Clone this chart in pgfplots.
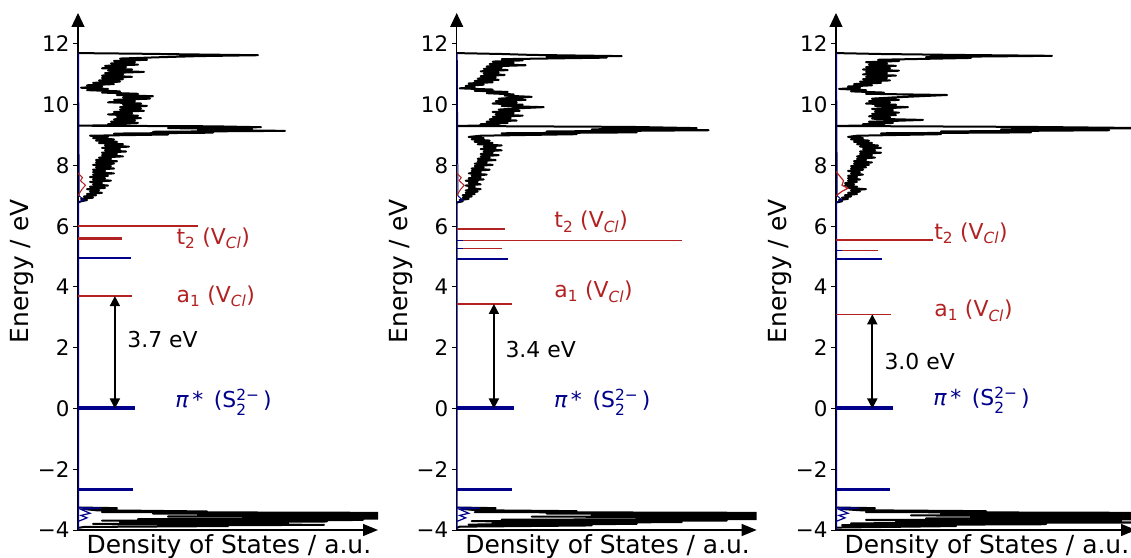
\documentclass[border=0pt]{standalone}
\usepackage{amsmath}
\usepackage{fontspec}
\setmainfont{DejaVu Sans}[ItalicFont={DejaVu Sans Oblique}]
\usepackage{pgfplots}
\pgfplotsset{compat=1.18}
\usepackage{pgfplotstable}
\usetikzlibrary{arrows.meta}

\definecolor{dred}{RGB}{178,34,34}
\definecolor{dblue}{RGB}{0,0,139}

% conduction band DOS, columns: dos energy
\pgfplotstableread{
x y
0.00 6.78
0.01 6.82
0.03 6.86
0.01 6.90
0.05 6.94
0.02 6.98
0.06 7.02
0.03 7.06
0.08 7.10
0.04 7.14
0.07 7.18
0.03 7.22
0.09 7.26
0.04 7.30
0.10 7.34
0.05 7.38
0.08 7.42
0.04 7.46
0.11 7.50
0.05 7.54
0.09 7.58
0.04 7.62
0.10 7.66
0.05 7.70
0.12 7.74
0.05 7.78
0.09 7.82
0.05 7.86
0.12 7.90
0.06 7.94
0.11 7.98
0.05 8.02
0.12 8.06
0.06 8.10
0.13 8.14
0.06 8.18
0.11 8.22
0.07 8.26
0.15 8.30
0.08 8.34
0.13 8.38
0.08 8.42
0.16 8.46
0.09 8.50
0.14 8.54
0.08 8.58
0.17 8.62
0.09 8.66
0.15 8.70
0.07 8.74
0.13 8.78
0.06 8.82
0.12 8.86
0.05 8.90
0.10 8.94
0.04 8.98
0.30 9.02
0.12 9.05
0.45 9.08
0.25 9.11
0.69 9.14
0.40 9.17
0.58 9.20
0.30 9.23
0.61 9.26
0.45 9.29
0.00 9.31
0.16 9.33
0.10 9.36
0.20 9.40
0.11 9.44
0.19 9.48
0.12 9.52
0.21 9.56
0.13 9.60
0.20 9.64
0.10 9.68
0.18 9.72
0.12 9.76
0.22 9.80
0.14 9.84
0.21 9.88
0.14 9.92
0.23 9.96
0.15 10.00
0.21 10.04
0.10 10.08
0.19 10.12
0.12 10.16
0.24 10.20
0.15 10.24
0.25 10.28
0.13 10.32
0.20 10.36
0.08 10.40
0.14 10.44
0.03 10.48
0.10 10.52
0.01 10.56
0.08 10.60
0.03 10.64
0.12 10.68
0.05 10.72
0.14 10.76
0.07 10.80
0.15 10.84
0.08 10.88
0.18 10.92
0.08 10.96
0.15 11.00
0.09 11.04
0.22 11.08
0.10 11.12
0.18 11.16
0.08 11.20
0.16 11.24
0.09 11.28
0.20 11.32
0.11 11.36
0.19 11.40
0.12 11.44
0.23 11.48
0.14 11.52
0.26 11.56
0.40 11.60
0.60 11.63
0.35 11.66
0.20 11.68
0.00 11.70
}\cbA

\pgfplotstableread{
x y
0.00 6.78
0.02 6.82
0.01 6.86
0.04 6.90
0.02 6.94
0.05 6.98
0.02 7.02
0.06 7.06
0.03 7.10
0.07 7.14
0.03 7.18
0.08 7.22
0.04 7.26
0.06 7.30
0.03 7.34
0.08 7.38
0.04 7.42
0.07 7.46
0.03 7.50
0.09 7.54
0.04 7.58
0.08 7.62
0.05 7.66
0.10 7.70
0.04 7.74
0.08 7.78
0.05 7.82
0.11 7.86
0.05 7.90
0.09 7.94
0.06 7.98
0.12 8.02
0.06 8.06
0.10 8.10
0.07 8.14
0.13 8.18
0.07 8.22
0.11 8.26
0.08 8.30
0.14 8.34
0.08 8.38
0.12 8.42
0.09 8.46
0.15 8.50
0.08 8.54
0.13 8.58
0.09 8.62
0.15 8.66
0.07 8.70
0.12 8.74
0.06 8.78
0.11 8.82
0.05 8.86
0.09 8.90
0.04 8.94
0.08 8.98
0.40 9.03
0.15 9.06
0.60 9.09
0.30 9.12
0.84 9.16
0.45 9.19
0.80 9.23
0.58 9.27
0.00 9.30
0.14 9.33
0.08 9.36
0.17 9.40
0.10 9.44
0.20 9.48
0.11 9.52
0.18 9.56
0.12 9.60
0.22 9.64
0.13 9.68
0.19 9.72
0.12 9.76
0.21 9.80
0.14 9.84
0.20 9.88
0.29 9.92
0.15 9.96
0.22 10.00
0.12 10.04
0.20 10.08
0.13 10.12
0.23 10.16
0.14 10.20
0.25 10.26
0.16 10.30
0.19 10.34
0.10 10.38
0.17 10.42
0.06 10.46
0.12 10.50
0.01 10.54
0.06 10.58
0.03 10.62
0.09 10.66
0.04 10.70
0.12 10.74
0.06 10.78
0.14 10.82
0.07 10.86
0.13 10.90
0.08 10.94
0.16 10.98
0.09 11.02
0.14 11.06
0.08 11.10
0.17 11.14
0.09 11.18
0.15 11.22
0.10 11.26
0.23 11.30
0.11 11.34
0.19 11.38
0.12 11.42
0.22 11.46
0.15 11.50
0.50 11.55
0.30 11.58
0.55 11.60
0.25 11.64
0.15 11.67
0.00 11.70
}\cbB

\pgfplotstableread{
x y
0.00 6.78
0.02 6.82
0.01 6.86
0.04 6.90
0.02 6.94
0.05 6.98
0.03 7.02
0.07 7.06
0.04 7.10
0.08 7.14
0.05 7.18
0.10 7.22
0.04 7.26
0.07 7.30
0.03 7.34
0.06 7.38
0.03 7.42
0.07 7.46
0.04 7.50
0.08 7.54
0.04 7.58
0.07 7.62
0.04 7.66
0.09 7.70
0.05 7.74
0.08 7.78
0.04 7.82
0.09 7.86
0.05 7.90
0.10 7.94
0.05 7.98
0.11 8.02
0.06 8.06
0.12 8.10
0.06 8.14
0.10 8.18
0.07 8.22
0.13 8.26
0.07 8.30
0.12 8.34
0.08 8.38
0.15 8.42
0.08 8.46
0.13 8.50
0.09 8.54
0.15 8.58
0.08 8.62
0.14 8.66
0.07 8.70
0.12 8.74
0.06 8.78
0.11 8.82
0.05 8.86
0.09 8.90
0.04 8.94
0.07 8.98
0.35 9.03
0.15 9.06
0.65 9.09
0.35 9.12
0.91 9.16
0.55 9.19
1.05 9.23
0.64 9.27
0.00 9.30
0.16 9.33
0.09 9.36
0.19 9.40
0.11 9.44
0.29 9.50
0.12 9.54
0.18 9.58
0.11 9.62
0.20 9.66
0.12 9.70
0.21 9.74
0.13 9.78
0.19 9.82
0.12 9.86
0.24 9.92
0.13 9.96
0.20 10.00
0.10 10.04
0.18 10.08
0.11 10.12
0.21 10.16
0.12 10.20
0.19 10.24
0.37 10.32
0.10 10.36
0.16 10.40
0.05 10.44
0.10 10.48
0.01 10.52
0.08 10.56
0.04 10.60
0.12 10.64
0.06 10.68
0.15 10.72
0.08 10.76
0.18 10.80
0.09 10.84
0.17 10.88
0.10 10.92
0.20 10.96
0.09 11.00
0.17 11.04
0.10 11.08
0.21 11.12
0.09 11.16
0.18 11.20
0.10 11.24
0.20 11.28
0.11 11.32
0.17 11.36
0.10 11.40
0.21 11.44
0.14 11.48
0.45 11.54
0.30 11.57
0.72 11.61
0.40 11.64
0.15 11.67
0.00 11.70
}\cbC

% valence band edge DOS
\pgfplotstableread{
x y
0.00 -3.26
0.13 -3.28
0.02 -3.31
0.06 -3.35
0.43 -3.39
0.08 -3.41
1.20 -3.44
0.25 -3.46
1.20 -3.48
0.40 -3.50
1.20 -3.53
0.30 -3.55
1.20 -3.57
0.55 -3.60
1.10 -3.62
0.20 -3.64
0.95 -3.67
0.08 -3.69
0.83 -3.72
0.14 -3.74
0.70 -3.77
0.05 -3.80
0.82 -3.83
0.30 -3.85
0.50 -3.87
0.02 -3.90
0.00 -3.93
}\vbA

\pgfplotstableread{
x y
0.00 -3.26
0.13 -3.28
0.02 -3.31
0.07 -3.35
0.40 -3.38
0.06 -3.41
1.20 -3.44
0.30 -3.46
1.20 -3.49
0.45 -3.51
1.20 -3.54
0.25 -3.56
1.20 -3.58
0.60 -3.61
1.00 -3.64
0.15 -3.66
0.90 -3.69
0.05 -3.71
0.75 -3.74
0.12 -3.77
0.60 -3.80
0.04 -3.82
0.45 -3.85
0.01 -3.89
0.00 -3.93
}\vbB

\pgfplotstableread{
x y
0.00 -3.26
0.13 -3.28
0.02 -3.31
0.08 -3.35
0.50 -3.38
0.10 -3.41
1.20 -3.44
0.35 -3.47
1.20 -3.49
0.25 -3.52
1.20 -3.55
0.45 -3.57
1.20 -3.60
0.30 -3.62
1.10 -3.65
0.10 -3.67
0.95 -3.70
0.20 -3.72
1.10 -3.75
0.05 -3.78
0.70 -3.81
0.02 -3.84
0.40 -3.87
0.00 -3.92
}\vbC

\newcommand{\ttwo}{t\textsubscript{2} (V\textsubscript{\itshape Cl})}
\newcommand{\aone}{a\textsubscript{1} (V\textsubscript{\itshape Cl})}
\newcommand{\pistar}{{\itshape π}\,* \,(S$_{\text{2}}^{\text{2−}}$\,)}
\newcommand{\annfont}{\fontsize{22}{22}\selectfont}

\pgfplotsset{
  dos/.style={
    anchor=south west, at={(#1,28bp)},
    scale only axis, width=300bp, height=517bp,
    xmin=0, xmax=1, ymin=-4, ymax=13.02,
    axis lines=left,
    x axis line style={black, line width=1.2bp, -{Triangle[width=12bp,length=15bp]}},
    y axis line style={black, line width=1.2bp, -{Triangle[width=13bp,length=14bp]}},
    xtick=\empty,
    ytick={-4,-2,0,2,4,6,8,10,12},
    yticklabels={−4,−2,0,2,4,6,8,10,12},
    tick align=outside,
    major tick length=5bp,
    every tick/.style={black, line width=1bp},
    yticklabel style={font=\fontsize{21.5}{21.5}\selectfont},
    xlabel={Density of States / a.u.},
    ylabel={Energy / eV},
    every axis x label/.style={at={(axis description cs:0.503,-0.0445)}, anchor=base,
      font=\fontsize{25}{25}\selectfont},
    every axis y label/.style={at={(axis description cs:-0.187,0.5)}, rotate=90, anchor=center,
      font=\fontsize{25}{25}\selectfont},
  },
  dosline/.style={black, line width=2bp, line join=round},
  gap/.style={black, line width=1.8bp,
    {Triangle[width=10bp,length=10bp]}-{Triangle[width=10bp,length=10bp]}},
}

\begin{document}
\begin{tikzpicture}
\useasboundingbox (0,0) rectangle (1131bp,558bp);

% ---------- panel 1 ----------
\begin{axis}[dos=78bp]
\addplot[dosline] table {\cbA};
\addplot[dosline] table {\vbA};
\addplot[dblue, line width=1bp] coordinates {(0.0017,-4) (0.0017,6.8) (0.02,6.86) (0.004,7.0) (0.0017,11.7)};
\addplot[dred, line width=1bp] coordinates {(0,7.0) (0.012,7.2) (0.025,7.35) (0.008,7.5) (0.015,7.6) (0,7.75)};
\addplot[dblue, line width=1.2bp] coordinates {(0,-3.26) (0.079,-3.28) (0.01,-3.32) (0.04,-3.45) (0.01,-3.52) (0.03,-3.6) (0,-3.72)};
\addplot[dred, line width=1.5bp] coordinates {(0,6.0) (0.40,6.0)};
\addplot[dred, line width=2.5bp] coordinates {(0,5.6) (0.147,5.6)};
\addplot[dblue, line width=1.8bp] coordinates {(0,4.95) (0.177,4.95)};
\addplot[dred, line width=1.5bp] coordinates {(0,3.7) (0.179,3.7)};
\addplot[dblue, line width=4bp] coordinates {(0,0) (0.19,0)};
\addplot[dblue, line width=2.5bp] coordinates {(0,-2.66) (0.182,-2.66)};
\addplot[gap] coordinates {(0.123,0) (0.123,3.7)};
\node[anchor=west, text=dred, font=\annfont] at (axis cs:0.317,5.6) {\ttwo};
\node[anchor=west, text=dred, font=\annfont] at (axis cs:0.317,3.7) {\aone};
\node[anchor=west, font=\annfont] at (axis cs:0.153,2.26) {3.7 eV};
\node[anchor=west, text=dblue, font=\annfont] at (axis cs:0.313,0.21) {\pistar};
\end{axis}

% ---------- panel 2 ----------
\begin{axis}[dos=456.7bp]
\addplot[dosline] table {\cbB};
\addplot[dosline] table {\vbB};
\addplot[dblue, line width=1bp] coordinates {(0.0017,-4) (0.0017,6.8) (0.02,6.86) (0.004,7.0) (0.0017,11.7)};
\addplot[dred, line width=1bp] coordinates {(0,7.0) (0.012,7.2) (0.025,7.35) (0.008,7.5) (0.015,7.6) (0,7.75)};
\addplot[dblue, line width=1.2bp] coordinates {(0,-3.26) (0.078,-3.28) (0.01,-3.32) (0.04,-3.45) (0.01,-3.52) (0.03,-3.6) (0,-3.72)};
\addplot[dred, line width=1.8bp] coordinates {(0,5.92) (0.161,5.92)};
\addplot[dred, line width=1.5bp] coordinates {(0,5.53) (0.75,5.53)};
\addplot[dblue, line width=1.5bp] coordinates {(0,5.53) (0.02,5.53)};
\addplot[dred, line width=1.8bp] coordinates {(0,5.27) (0.15,5.27)};
\addplot[dblue, line width=1.8bp] coordinates {(0,5.27) (0.02,5.27)};
\addplot[dblue, line width=1.8bp] coordinates {(0,4.92) (0.17,4.92)};
\addplot[dred, line width=1.5bp] coordinates {(0,3.44) (0.183,3.44)};
\addplot[dblue, line width=4bp] coordinates {(0,0) (0.19,0)};
\addplot[dblue, line width=2.5bp] coordinates {(0,-2.66) (0.183,-2.66)};
\addplot[gap] coordinates {(0.124,0) (0.124,3.44)};
\node[anchor=west, text=dred, font=\annfont] at (axis cs:0.314,6.14) {\ttwo};
\node[anchor=west, text=dred, font=\annfont] at (axis cs:0.314,3.84) {\aone};
\node[anchor=west, font=\annfont] at (axis cs:0.151,1.93) {3.4 eV};
\node[anchor=west, text=dblue, font=\annfont] at (axis cs:0.313,0.21) {\pistar};
\end{axis}

% ---------- panel 3 ----------
\begin{axis}[dos=836bp]
\addplot[dosline] table {\cbC};
\addplot[dosline] table {\vbC};
\addplot[dblue, line width=1bp] coordinates {(0.0017,-4) (0.0017,6.8) (0.02,6.86) (0.004,7.0) (0.0017,11.7)};
\addplot[dred, line width=1.2bp] coordinates {(0,7.0) (0.02,7.15) (0.04,7.25) (0.02,7.35) (0.025,7.5) (0,7.8)};
\addplot[dblue, line width=1.2bp] coordinates {(0,-3.26) (0.078,-3.28) (0.01,-3.32) (0.04,-3.45) (0.01,-3.52) (0.03,-3.6) (0,-3.72)};
\addplot[dred, line width=1.5bp] coordinates {(0,5.55) (0.323,5.55)};
\addplot[dred, line width=1.8bp] coordinates {(0,5.2) (0.141,5.2)};
\addplot[dblue, line width=1.8bp] coordinates {(0,5.2) (0.02,5.2)};
\addplot[dblue, line width=1.8bp] coordinates {(0,4.91) (0.154,4.91)};
\addplot[dred, line width=1.5bp] coordinates {(0,3.1) (0.183,3.1)};
\addplot[dblue, line width=4bp] coordinates {(0,0) (0.189,0)};
\addplot[dblue, line width=2.5bp] coordinates {(0,-2.66) (0.18,-2.66)};
\addplot[gap] coordinates {(0.121,0) (0.121,3.1)};
\node[anchor=west, text=dred, font=\annfont] at (axis cs:0.316,5.77) {\ttwo};
\node[anchor=west, text=dred, font=\annfont] at (axis cs:0.316,3.21) {\aone};
\node[anchor=west, font=\annfont] at (axis cs:0.15,1.54) {3.0 eV};
\node[anchor=west, text=dblue, font=\annfont] at (axis cs:0.313,0.28) {\pistar};
\end{axis}
\end{tikzpicture}
\end{document}
